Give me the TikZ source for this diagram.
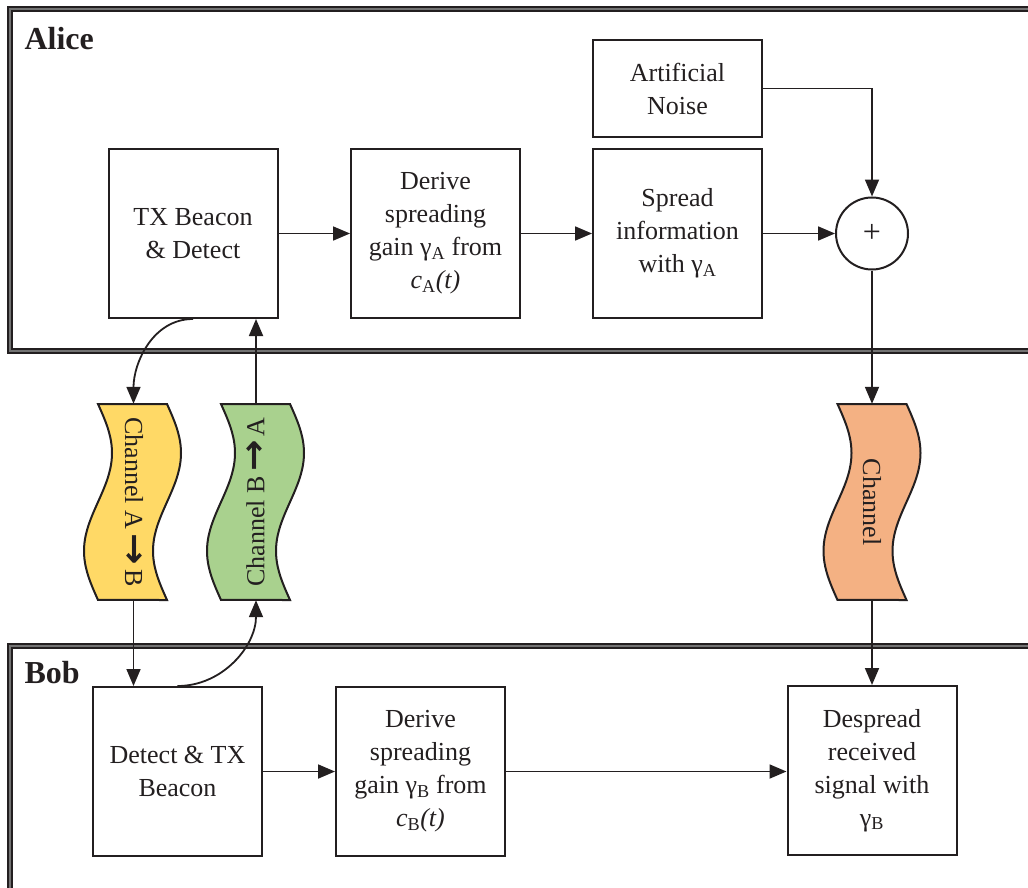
\documentclass[tikz,border=0pt]{standalone}
\usepackage{fontspec}
\setmainfont{Liberation Serif}
\newfontfamily\arrowfont{DejaVu Sans}
\usetikzlibrary{arrows.meta,calc}

\definecolor{ink}{HTML}{231F20}
\definecolor{chyellow}{HTML}{FFD966}
\definecolor{chgreen}{HTML}{A9D18E}
\definecolor{chorange}{HTML}{F4B183}

% bold arrow glyph used in the channel names
\newcommand\chto{\,\raisebox{-0.05em}{\scalebox{1.45}[1.35]{\arrowfont\bfseries →}}\,}

% wavy channel outline: #1 = left x, #2 = top y, #3 = fill colour
\newcommand\chanshape[3]{%
  \draw[chan, fill=#3]
    plot[domain=0:1, samples=49, variable=\vv] ({#1+14*sin(360*\vv)},{#2+196*\vv})
    -- plot[domain=1:0, samples=49, variable=\vv] ({#1+69+14*sin(360*\vv)},{#2+196*\vv})
    -- cycle;}

\begin{document}
\begin{tikzpicture}[x=1pt, y=-1pt,
  every node/.style={text=ink, font=\fontsize{26}{33}\selectfont},
  blk/.style={draw=ink, line width=2pt, align=center, inner sep=0pt,
              minimum width=169pt, minimum height=169pt},
  arr/.style={draw=ink, line width=1.8pt, -{Triangle[length=17pt,width=14pt]}},
  frame/.style={draw=ink, line width=1.9pt, double=black!55, double distance=1.8pt},
  chan/.style={draw=ink, line width=2pt},
  chnode/.style={minimum width=69pt, minimum height=196pt, inner sep=0pt},
  who/.style={font=\fontsize{32}{36}\selectfont\bfseries, anchor=base west}]

\useasboundingbox (0,0) rectangle (1028,888);

% party frames
\begin{scope}
  \clip (0,0) rectangle (1028,888);
  \draw[frame] (10,9) rectangle (1045,351);
  \draw[frame] (10,646) rectangle (1045,905);
\end{scope}
\node[who] (alice) at (21,50) {Alice};
\node[who] (bob) at (21,683) {Bob};

% Alice blocks
\node[blk] (txa) at (193,233.5) {TX Beacon\\\& Detect};
\node[blk] (dera) at (435.5,233.5) {Derive\\spreading\\gain γ\textsubscript{A} from\\\textit{c}\textsubscript{A}\textit{(t)}};
\node[blk] (spr) at (677.5,233.5) {Spread\\information\\with γ\textsubscript{A}};
\node[blk, minimum height=97pt] (an) at (677.5,88.5) {Artificial\\Noise};
\node[circle, draw=ink, line width=2pt, minimum size=72pt, inner sep=0pt,
      font=\fontsize{32}{36}\selectfont] (add) at (872,233.5) {+};

% Bob blocks
\node[blk] (dtx) at (177.5,771.5) {Detect \& TX\\Beacon};
\node[blk] (derb) at (420.5,771.5) {Derive\\spreading\\gain γ\textsubscript{B} from\\\textit{c}\textsubscript{B}\textit{(t)}};
\node[blk] (desp) at (872,770.5) {Despread\\received\\signal with\\γ\textsubscript{B}};

% channels
\chanshape{98}{404}{chyellow}
\chanshape{221}{404}{chgreen}
\chanshape{837.5}{404}{chorange}
\node[chnode] (chAB) at (133.5,502) {\rotatebox{-90}{Channel A\chto B}};
\node[chnode] (chBA) at (256,502) {\rotatebox{90}{Channel B\chto A}};
\node[chnode] (chE) at (872,502) {\rotatebox{-90}{Channel}};

% Alice signal flow
\draw[arr] (txa) -- (dera);
\draw[arr] (dera) -- (spr);
\draw[arr] (spr) -- (add);
\draw[arr] (an.east) -| (add.north);
\draw[arr] (add.south) -- (chE.north);

% beacon exchange
\draw[arr] (txa.south) to[out=180, in=90] (chAB.north);
\draw[arr] (chBA.north) -- (chBA.north |- txa.south);
\draw[arr] (chAB.south) -- (chAB.south |- dtx.north);
\draw[arr] (dtx.north) to[out=0, in=-90] (chBA.south);

% Bob signal flow
\draw[arr] (chE.south) -- (desp.north);
\draw[arr] (dtx) -- (derb);
\draw[arr] (derb.east) -- (derb.east -| desp.west);
\end{tikzpicture}
\end{document}
